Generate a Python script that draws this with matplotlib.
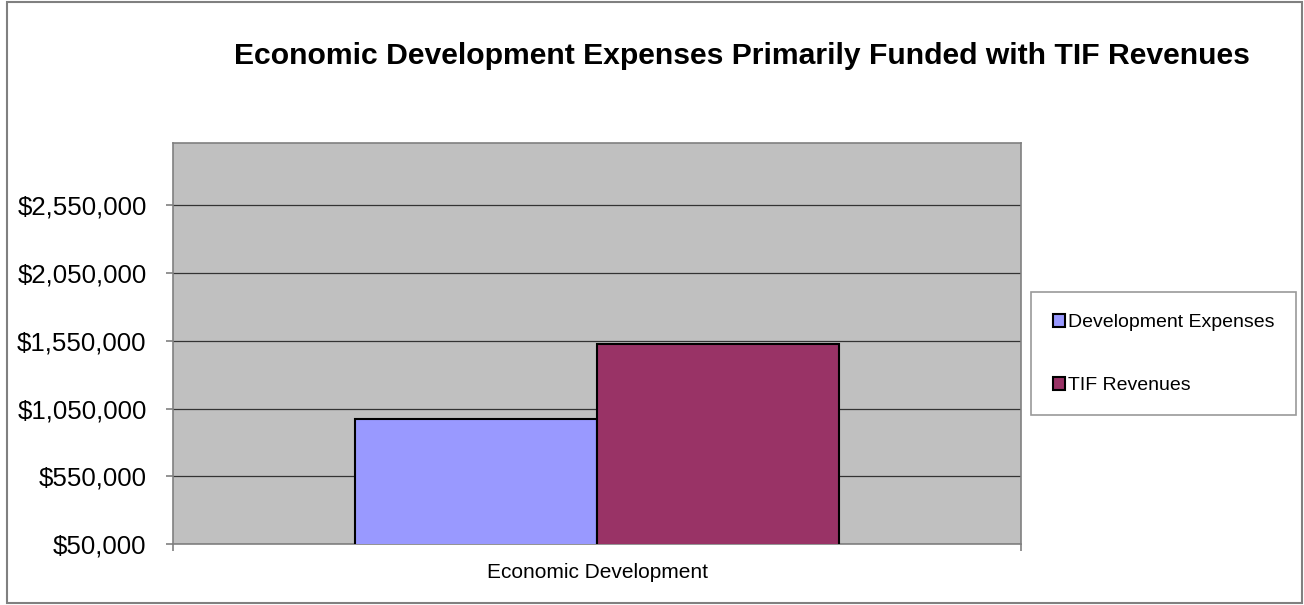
import matplotlib
matplotlib.use("Agg")
from matplotlib import pyplot as plt
from matplotlib.patches import Rectangle
from matplotlib.ticker import FuncFormatter

# Data
categories = ["Economic Development"]
series_names = ["Development Expenses", "TIF Revenues"]
dev_expenses = [971000]
tif_revenues = [1528000]
colors = ["#9999FF", "#993366"]

plt.rcParams['font.family'] = ['Liberation Sans', 'DejaVu Sans']

fig = plt.figure(figsize=(13.04, 6.05), dpi=100)
ax = fig.add_axes([0.1327, 0.1008, 0.6503, 0.6628])
ax.set_facecolor("#C0C0C0")

width = 0.285
ax.bar([-width / 2], dev_expenses, width=width, color=colors[0], edgecolor="black",
       linewidth=1.5, label=series_names[0], zorder=3)
ax.bar([width / 2], tif_revenues, width=width, color=colors[1], edgecolor="black",
       linewidth=1.5, label=series_names[1], zorder=3)

ax.set_xlim(-0.5, 0.5)
ax.set_ylim(50000, 3010000)
ax.set_yticks(range(50000, 2550001, 500000))
ax.yaxis.set_major_formatter(FuncFormatter(lambda v, p: "${:,.0f}".format(v)))
ax.yaxis.grid(True, color="#333333", linewidth=0.9, zorder=1)
ax.set_axisbelow(True)

# category label in the middle, boundary ticks at the edges
ax.set_xticks([0])
ax.set_xticklabels(categories)
ax.set_xticks([-0.5, 0.5], minor=True)
ax.tick_params(axis="x", which="major", length=0, pad=14, labelsize=15)
ax.tick_params(axis="x", which="minor", length=5, color="#808080", width=1.2)
ax.tick_params(axis="y", length=5, color="#808080", width=1.2, pad=14, labelsize=18.6)

for s in ax.spines.values():
    s.set_color("#808080")
    s.set_linewidth(1.2)

fig.text(0.569, 0.908, "Economic Development Expenses Primarily Funded with TIF Revenues",
         ha="center", va="center", fontsize=21.7, fontweight="bold")

leg = fig.legend(loc="center", bbox_to_anchor=(0.8925, 0.415), frameon=True,
                 fancybox=False, fontsize=14, handlelength=0.65, handleheight=0.65,
                 handletextpad=0.15, labelspacing=2.35, borderpad=1.1, borderaxespad=0)
leg.get_frame().set_edgecolor("#808080")
leg.get_frame().set_linewidth(1.2)
for h in leg.legend_handles:
    h.set_linewidth(1.5)

# outer chart border
fig.patches.append(Rectangle((0.005, 0.003), 0.9935, 0.994, transform=fig.transFigure,
                             fill=False, edgecolor="#808080", linewidth=1.5))

fig.savefig("out.png", dpi=100)
